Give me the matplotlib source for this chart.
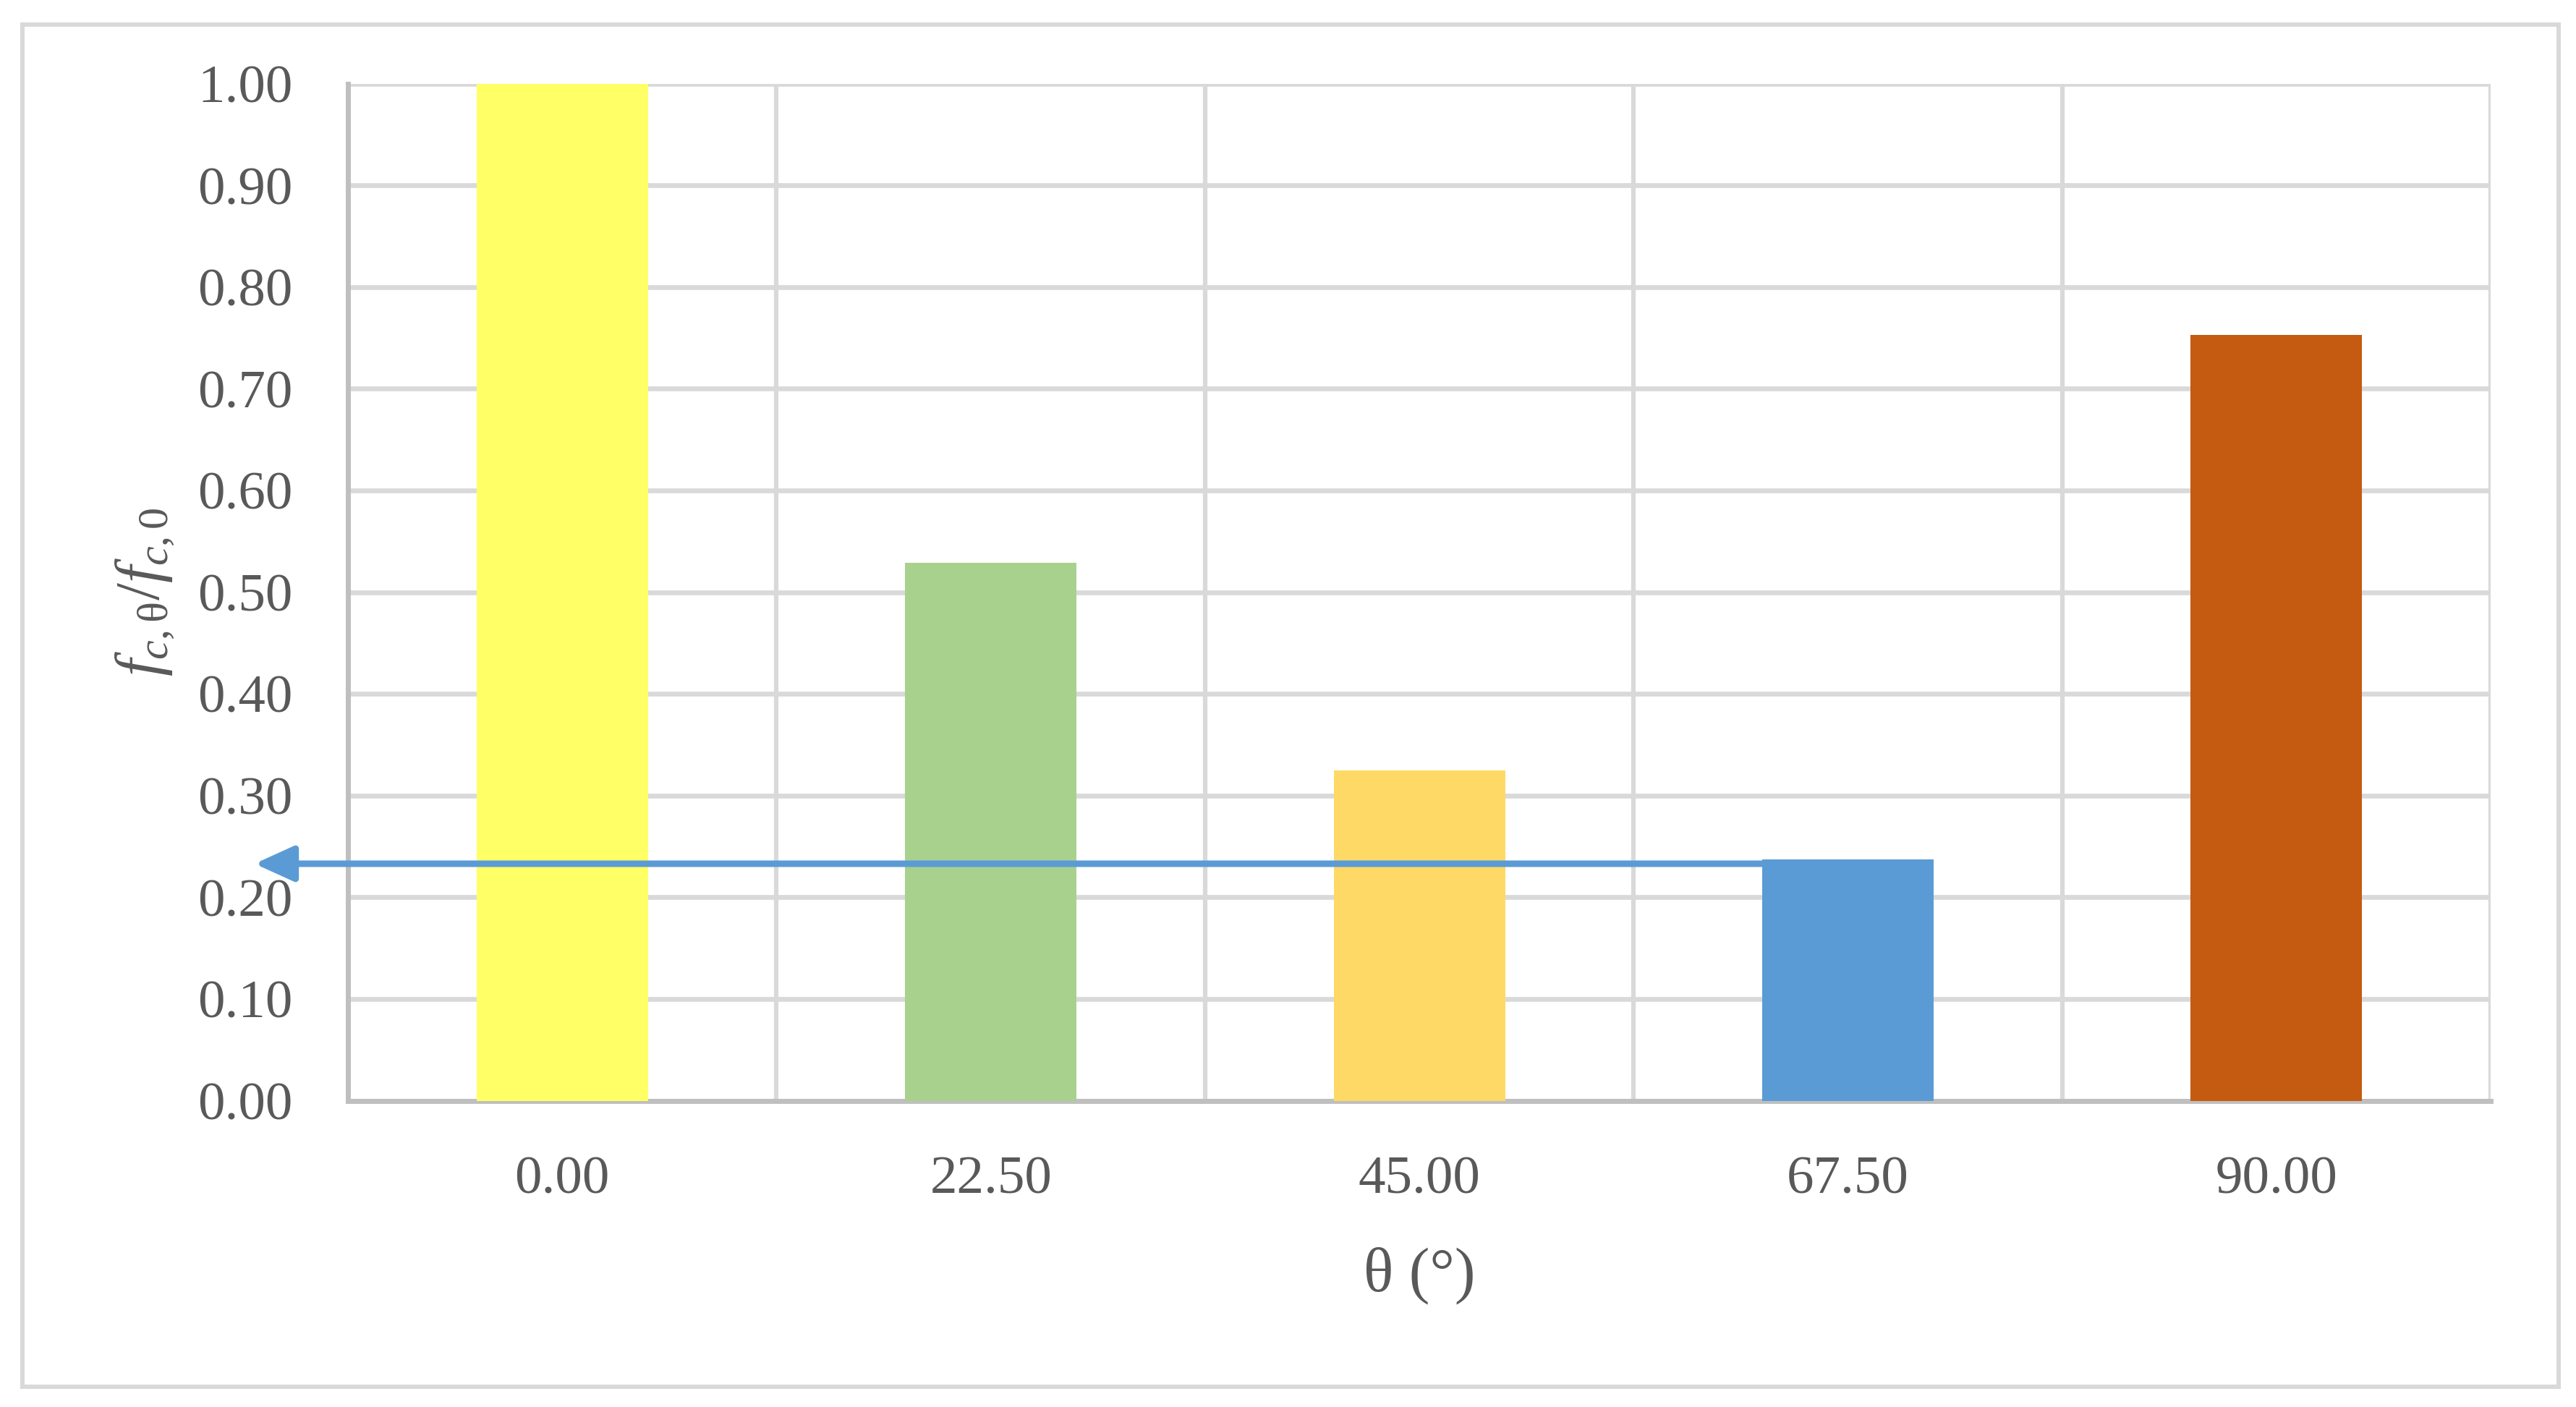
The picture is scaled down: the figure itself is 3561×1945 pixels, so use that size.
import matplotlib
matplotlib.use("Agg")
import matplotlib.pyplot as plt
from matplotlib.patches import Rectangle
import numpy as np

# ---- data ----
categories = ["0.00", "22.50", "45.00", "67.50", "90.00"]
values = [1.00, 0.529, 0.325, 0.237, 0.753]
bar_colors = ["#FFFF66", "#A9D18E", "#FFD966", "#5B9BD5", "#C55A11"]
y_ticks = [0.0, 0.1, 0.2, 0.3, 0.4, 0.5, 0.6, 0.7, 0.8, 0.9, 1.0]
arrow_level = 0.233
arrow_from_category = 3
arrow_tip_x = -0.718

plt.rcParams["font.family"] = ["Liberation Serif", "DejaVu Serif"]
plt.rcParams["mathtext.fontset"] = "custom"
plt.rcParams["mathtext.rm"] = "Liberation Serif"
plt.rcParams["mathtext.it"] = "Liberation Serif:italic"

TXT = "#595959"
GRID = "#D9D9D9"
AXC = "#BFBFBF"

fig = plt.figure(figsize=(35.61, 19.45), dpi=100)
ax = fig.add_axes([0.1351, 0.2177, 0.8318, 0.7228])

x = np.arange(len(categories))
bar_w = 0.40
ax.bar(x, values, width=bar_w, color=bar_colors, zorder=3, linewidth=0)

ax.set_xlim(-0.5, len(categories) - 0.5)
ax.set_ylim(0, 1.0)
ax.set_yticks(y_ticks)
ax.set_yticklabels([f"{v:.2f}" for v in y_ticks])
ax.set_xticks(x)
ax.set_xticklabels(categories)
ax.set_xticks(np.arange(len(categories) + 1) - 0.5, minor=True)

ax.grid(True, axis="y", which="major", color=GRID, linewidth=4.8, zorder=0)
ax.grid(True, axis="x", which="minor", color=GRID, linewidth=4.5, zorder=0)
ax.grid(False, axis="x", which="major")
ax.set_axisbelow(True)

for s in ["top", "right"]:
    ax.spines[s].set_visible(False)
for s in ["left", "bottom"]:
    ax.spines[s].set_color(AXC)
    ax.spines[s].set_linewidth(5.0)
    ax.spines[s].set_zorder(2)

ax.tick_params(axis="both", which="both", length=0, colors=TXT, labelsize=54)
ax.tick_params(axis="y", pad=55)
ax.tick_params(axis="x", pad=55)

ax.set_xlabel("θ (°)", fontsize=62, color=TXT, labelpad=42)
ax.set_ylabel(r"$f_{c,\mathrm{θ}}/f_{c,0}$", fontsize=62, color=TXT, labelpad=22)

# arrow from left edge of 67.50 bar to the left of the y axis
start_x = arrow_from_category - bar_w / 2
ax.annotate("", xy=(arrow_tip_x, arrow_level), xytext=(start_x, arrow_level),
            arrowprops=dict(arrowstyle="-|>,head_length=33,head_width=15",
                            mutation_scale=1, lw=6.5, color="#5B9BD5",
                            shrinkA=0, shrinkB=0),
            annotation_clip=False, zorder=5)

# outer frame
fig.patches.append(Rectangle((31 / 3561, 1 - 1917 / 1945), (3537 - 31) / 3561,
                             (1917 - 34) / 1945, transform=fig.transFigure,
                             fill=False, edgecolor=GRID, linewidth=4.3))

fig.savefig("out.png", dpi=100, facecolor="white")
